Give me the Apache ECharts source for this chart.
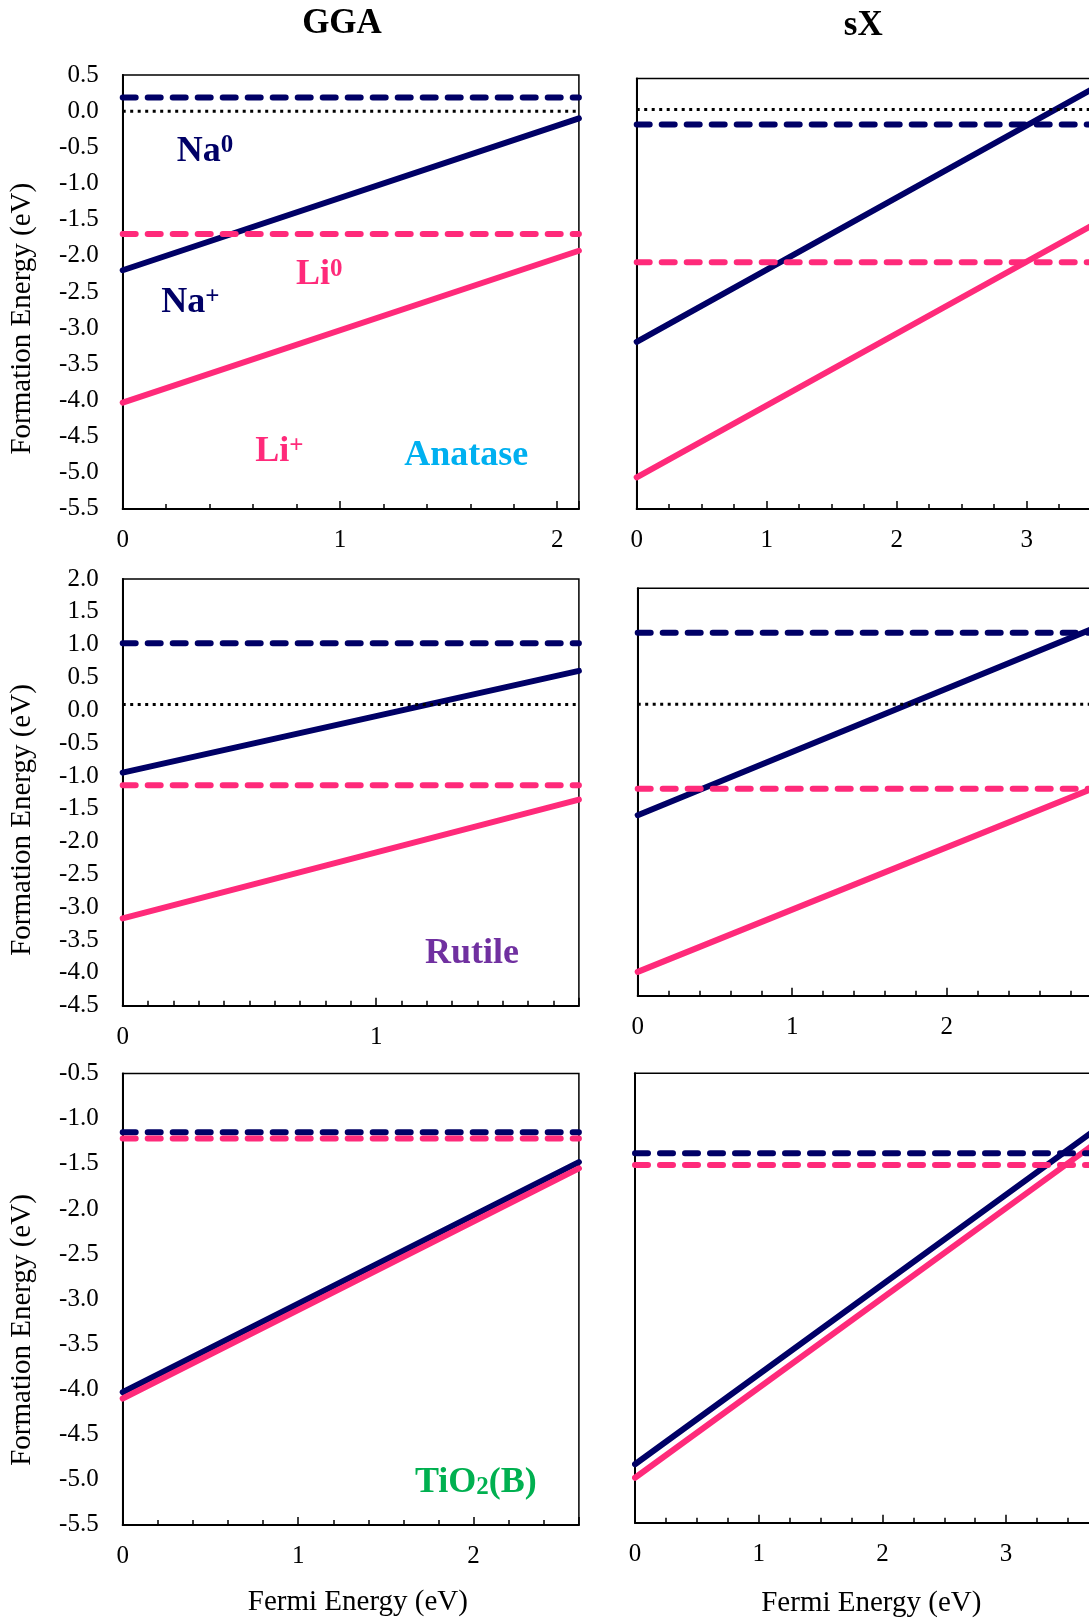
<!DOCTYPE html>
<html><head><meta charset="utf-8">
<script src="https://cdn.jsdelivr.net/npm/echarts@6/dist/echarts.min.js"></script>
<style>html,body{margin:0;padding:0;background:#fff}#chart{width:1089px;height:1622px}</style>
</head><body><div id="chart"></div>
<script>
// ---- data (panel order: Anatase GGA, Anatase sX, Rutile GGA, Rutile sX, TiO2(B) GGA, TiO2(B) sX)
const panelNames  = ['Anatase GGA', 'Anatase sX', 'Rutile GGA', 'Rutile sX', 'TiO2(B) GGA', 'TiO2(B) sX'];
const fermiMax    = [2.1, 3.5, 1.8, 2.95, 2.6, 3.7];
const minorStep   = [0.2, 0.25, 0.1, 0.2, 0.2, 0.25];
const yMin        = [-5.5, -5.5, -4.5, -4.5, -5.5, -5.5];
const yMax        = [0.5, 0.5, 2.0, 2.0, -0.5, -0.5];
const naPlusStart = [-2.20, -3.17, -0.95, -1.62, -4.03, -4.85];
const naPlusEnd   = [-0.10, 0.35, 0.60, 1.36, -1.48, -1.15];
const liPlusStart = [-4.03, -5.06, -3.17, -4.12, -4.10, -5.00];
const liPlusEnd   = [-1.93, -1.55, -1.36, -1.19, -1.55, -1.30];
const na0Level    = [0.19, -0.14, 1.02, 1.29, -1.15, -1.39];
const li0Level    = [-1.70, -2.06, -1.14, -1.20, -1.22, -1.52];
const refLevel    = [0.0, 0.07, 0.09, 0.15, null, null];
const showYLabels = [true, false, true, false, true, false];

// ---- layout (px)
const gridBox = [
  [122.7, 75, 456.2, 433.9],
  [636.7, 78.6, 455, 430.3],
  [122.7, 579, 456.2, 426.7],
  [637.7, 588.3, 455.8, 407.4],
  [122.7, 1073.6, 456.2, 451.3],
  [635, 1073.3, 457.7, 449.4]
];
const NAVY = '#000066', PINK = '#ff2a7a';
const FONT = '"Liberation Serif", "Times New Roman", serif';

const grids = [], xAxes = [], yAxes = [], series = [];
for (let i = 0; i < 6; i++) {
  const b = gridBox[i];
  grids.push({left: b[0], top: b[1], width: b[2], height: b[3], show: true,
    borderColor: '#000', borderWidth: 1.5, backgroundColor: 'rgba(0,0,0,0)', outerBoundsMode: 'none', containLabel: false});
  xAxes.push({gridIndex: i, type: 'value', position: 'bottom', min: 0, max: fermiMax[i], interval: minorStep[i],
    axisLine: {show: true, onZero: false, lineStyle: {color: '#000', width: 2}},
    axisTick: {show: true, inside: true, length: 5, lineStyle: {color: '#000', width: 1.5}},
    axisLabel: {show: false}, splitLine: {show: false}});
  xAxes.push({gridIndex: i, type: 'value', position: 'bottom', offset: 0, min: 0, max: fermiMax[i], interval: 1,
    axisLine: {show: false, onZero: false},
    axisTick: {show: true, inside: true, length: 8, lineStyle: {color: '#000', width: 1.5}},
    axisLabel: {show: true, margin: 19, fontSize: 25, fontFamily: FONT, color: '#000',
      formatter: v => Math.abs(v - Math.round(v)) < 1e-6 ? String(Math.round(v)) : ''},
    splitLine: {show: false}});
  yAxes.push({gridIndex: i, type: 'value', position: 'left', min: yMin[i], max: yMax[i], interval: 0.5,
    axisLine: {show: true, onZero: false, lineStyle: {color: '#000', width: 2}},
    axisTick: {show: false}, splitLine: {show: false},
    axisLabel: {show: showYLabels[i], margin: 24, fontSize: 25, fontFamily: FONT, color: '#000',
      formatter: v => Math.abs(v) < 1e-9 ? '0.0' : v.toFixed(1)}});

  const xa = 2 * i, ya = i;
  const solid = (name, data, color) => ({name, type: 'line', xAxisIndex: xa, yAxisIndex: ya, data,
    symbol: 'none', clip: true, silent: true, animation: false,
    lineStyle: {color, width: 6, cap: 'round'}});
  const level = (name, v, color) => ({name, type: 'line', xAxisIndex: xa, yAxisIndex: ya,
    data: [[0, v], [fermiMax[i], v]], symbol: 'none', clip: true, silent: true, animation: false,
    lineStyle: {color, width: 6, type: [13, 12], cap: 'round'}});
  series.push(solid(panelNames[i] + ' Na+', [[0, naPlusStart[i]], [fermiMax[i], naPlusEnd[i]]], NAVY));
  series.push(solid(panelNames[i] + ' Li+', [[0, liPlusStart[i]], [fermiMax[i], liPlusEnd[i]]], PINK));
  series.push(level(panelNames[i] + ' Na0', na0Level[i], NAVY));
  series.push(level(panelNames[i] + ' Li0', li0Level[i], PINK));
  if (refLevel[i] !== null) {
    series.push({name: panelNames[i] + ' ref', type: 'line', xAxisIndex: xa, yAxisIndex: ya,
      data: [[0, refLevel[i]], [fermiMax[i], refLevel[i]]], symbol: 'none', clip: true, silent: true, animation: false,
      lineStyle: {color: '#000', width: 3, type: [3, 4.5]}});
  }
}

function txt(x, y, text, opts) {
  return Object.assign({type: 'text', x, y, silent: true, z: 100,
    style: Object.assign({text, fill: '#000', fontFamily: FONT, fontSize: 36, fontWeight: 'bold',
      align: 'left', verticalAlign: 'middle'}, opts.style || {})}, opts.el || {});
}
const supRich = c => ({
  m: {fill: c, fontFamily: FONT, fontSize: 36, fontWeight: 'bold', lineHeight: 36},
  s: {fill: c, fontFamily: FONT, fontSize: 25, fontWeight: 'bold', lineHeight: 20, verticalAlign: 'top'},
  d: {fill: c, fontFamily: FONT, fontSize: 25, fontWeight: 'bold', lineHeight: 24, verticalAlign: 'bottom'}
});

const graphics = [
  txt(342, 24, 'GGA', {style: {align: 'center', fontSize: 35}}),
  txt(863.3, 26, 'sX', {style: {align: 'center', fontSize: 35}}),
  txt(176.7, 151.3, '{m|Na}{s|0}', {style: {rich: supRich(NAVY)}}),
  txt(161.3, 302.6, '{m|Na}{s|+}', {style: {rich: supRich(NAVY)}}),
  txt(296, 275, '{m|Li}{s|0}', {style: {rich: supRich(PINK)}}),
  txt(255.3, 451.8, '{m|Li}{s|+}', {style: {rich: supRich(PINK)}}),
  txt(404.3, 456, 'Anatase', {style: {fill: '#00b0f0'}}),
  txt(424.9, 953.4, 'Rutile', {style: {fill: '#7030a0'}}),
  txt(415, 1482.5, '{m|TiO}{d|2}{m|(B)}', {style: {rich: supRich('#00b050')}}),
  txt(22, 318.7, 'Formation Energy (eV)', {style: {align: 'center', fontSize: 29, fontWeight: 'normal'}, el: {rotation: Math.PI / 2}}),
  txt(22, 820, 'Formation Energy (eV)', {style: {align: 'center', fontSize: 29, fontWeight: 'normal'}, el: {rotation: Math.PI / 2}}),
  txt(22, 1330, 'Formation Energy (eV)', {style: {align: 'center', fontSize: 29, fontWeight: 'normal'}, el: {rotation: Math.PI / 2}}),
  txt(357.9, 1602, 'Fermi Energy (eV)', {style: {align: 'center', fontSize: 29, fontWeight: 'normal'}}),
  txt(871.3, 1603, 'Fermi Energy (eV)', {style: {align: 'center', fontSize: 29, fontWeight: 'normal'}})
];

const chart = echarts.init(document.getElementById('chart'), null, {renderer: 'canvas'});
chart.setOption({
  backgroundColor: '#fff',
  animation: false,
  grid: grids, xAxis: xAxes, yAxis: yAxes, series,
  graphic: graphics
});
</script></body></html>
